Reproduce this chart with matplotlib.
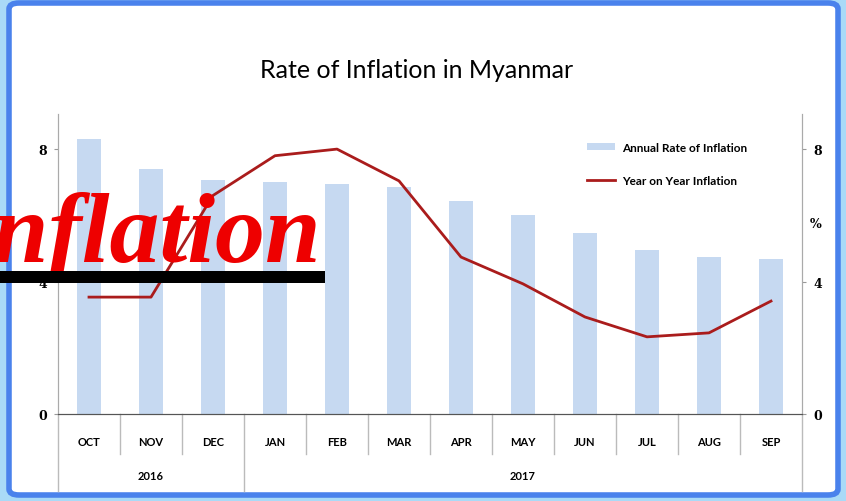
import matplotlib
matplotlib.use("Agg")
import matplotlib.pyplot as plt
import matplotlib.transforms as mtransforms
from matplotlib.patches import FancyBboxPatch, Patch
from matplotlib.lines import Line2D
import numpy as np

# data
months = ["OCT", "NOV", "DEC", "JAN", "FEB", "MAR", "APR", "MAY", "JUN", "JUL", "AUG", "SEP"]
years = ["2016", "2017"]
year_spans = [(0, 3), (3, 12)]
annual_rate = [8.3, 7.4, 7.07, 7.0, 6.95, 6.86, 6.43, 6.0, 5.47, 4.95, 4.74, 4.68]
yoy_rate = [3.53, 3.53, 6.6, 7.8, 8.0, 7.04, 4.74, 3.93, 2.93, 2.33, 2.45, 3.41]
yticks = [0, 4, 8]

W, H = 846, 502
fig = plt.figure(figsize=(W / 100, H / 100), dpi=100)
fig.patch.set_facecolor("#a9daf7")

# white card with blue rounded border
card = FancyBboxPatch((9 / W, 6 / H), 829 / W, 492 / H,
                      boxstyle="round,pad=0,rounding_size=0.012",
                      transform=fig.transFigure, facecolor="white",
                      edgecolor="#4a82ec", linewidth=4, zorder=-10)
fig.patches.append(card)

ax = fig.add_axes([58 / W, (H - 415) / H, (802 - 58) / W, (415 - 115) / H])
ax.set_facecolor("none")
x = np.arange(len(months))
ax.bar(x, annual_rate, width=0.38, color="#c6d9f1", zorder=1)
ax.plot(x, yoy_rate, color="#aa1c1c", linewidth=2, zorder=2)

ymax = 9.06
ax.set_ylim(0, ymax)
ax.set_xlim(-0.5, len(months) - 0.5)
ax.set_yticks(yticks)
ax.set_yticklabels([str(t) for t in yticks], fontsize=9, fontweight="bold",
                   family="DejaVu Serif")
ax.tick_params(axis="y", length=3, color="#999999", pad=5)
ax.set_xticks(x)
ax.set_xticklabels(months, fontsize=8, fontweight="bold", family="Lato")
ax.tick_params(axis="x", length=0, pad=16)

ax2 = ax.twinx()
ax2.set_ylim(0, ymax)
ax2.set_yticks(yticks)
ax2.set_yticklabels([str(t) for t in yticks], fontsize=9, fontweight="bold",
                    family="DejaVu Serif")
ax2.tick_params(axis="y", length=3, color="#999999", pad=5)
for a in (ax, ax2):
    a.spines["top"].set_visible(False)
    for s in ["left", "right"]:
        a.spines[s].set_color("#aaaaaa")
    a.spines["bottom"].set_color("#555555")

# "%" axis labels
fig.text(36 / W, 1 - 225 / H, "%", fontsize=9, fontweight="bold",
         ha="center", va="center", family="DejaVu Serif")
fig.text(816 / W, 1 - 225 / H, "%", fontsize=9, fontweight="bold",
         ha="center", va="center", family="DejaVu Serif")

# multi-level category axis
trans = mtransforms.blended_transform_factory(ax.transData, ax.transAxes)
edges = set()
for s, e in year_spans:
    edges.update([s - 0.5, e - 0.5])
for b in np.arange(len(months) + 1) - 0.5:
    y_end = -77 / 300 if b in edges else -40 / 300
    ax.plot([b, b], [0, y_end], transform=trans, color="#bbbbbb", lw=1, clip_on=False)
for label, (s, e) in zip(years, year_spans):
    ax.text((s + e - 1) / 2, -62 / 300, label, transform=trans, ha="center", va="center",
            fontsize=8, fontweight="bold", family="Lato")

# legend
handles = [Patch(facecolor="#c6d9f1", edgecolor="none"),
           Line2D([], [], color="#aa1c1c", lw=2)]
ax.legend(handles, ["Annual Rate of Inflation", "Year on Year Inflation"],
          loc="upper left", bbox_to_anchor=(518 / 744, 0.943), frameon=False,
          prop={"family": "Lato", "weight": "bold", "size": 8.5},
          handlelength=2.4, handleheight=0.5, handletextpad=0.6, labelspacing=1.9)

fig.text(417 / W, 1 - 70 / H, "Rate of Inflation in Myanmar", ha="center", va="center",
         fontsize=18, family="Lato")

# overlaid banner text
fig.text(322 / W, 1 - 262 / H, "Inflation", ha="right", va="baseline", color="#ee0000",
         fontsize=72, fontweight="bold", fontstyle="italic", family="Liberation Serif",
         zorder=10)
fig.patches.append(plt.Rectangle((0, 1 - 284 / H), 325 / W, 12 / H,
                                 transform=fig.transFigure, facecolor="black",
                                 edgecolor="none", zorder=11))

fig.savefig("out.png", dpi=100, facecolor=fig.get_facecolor())
